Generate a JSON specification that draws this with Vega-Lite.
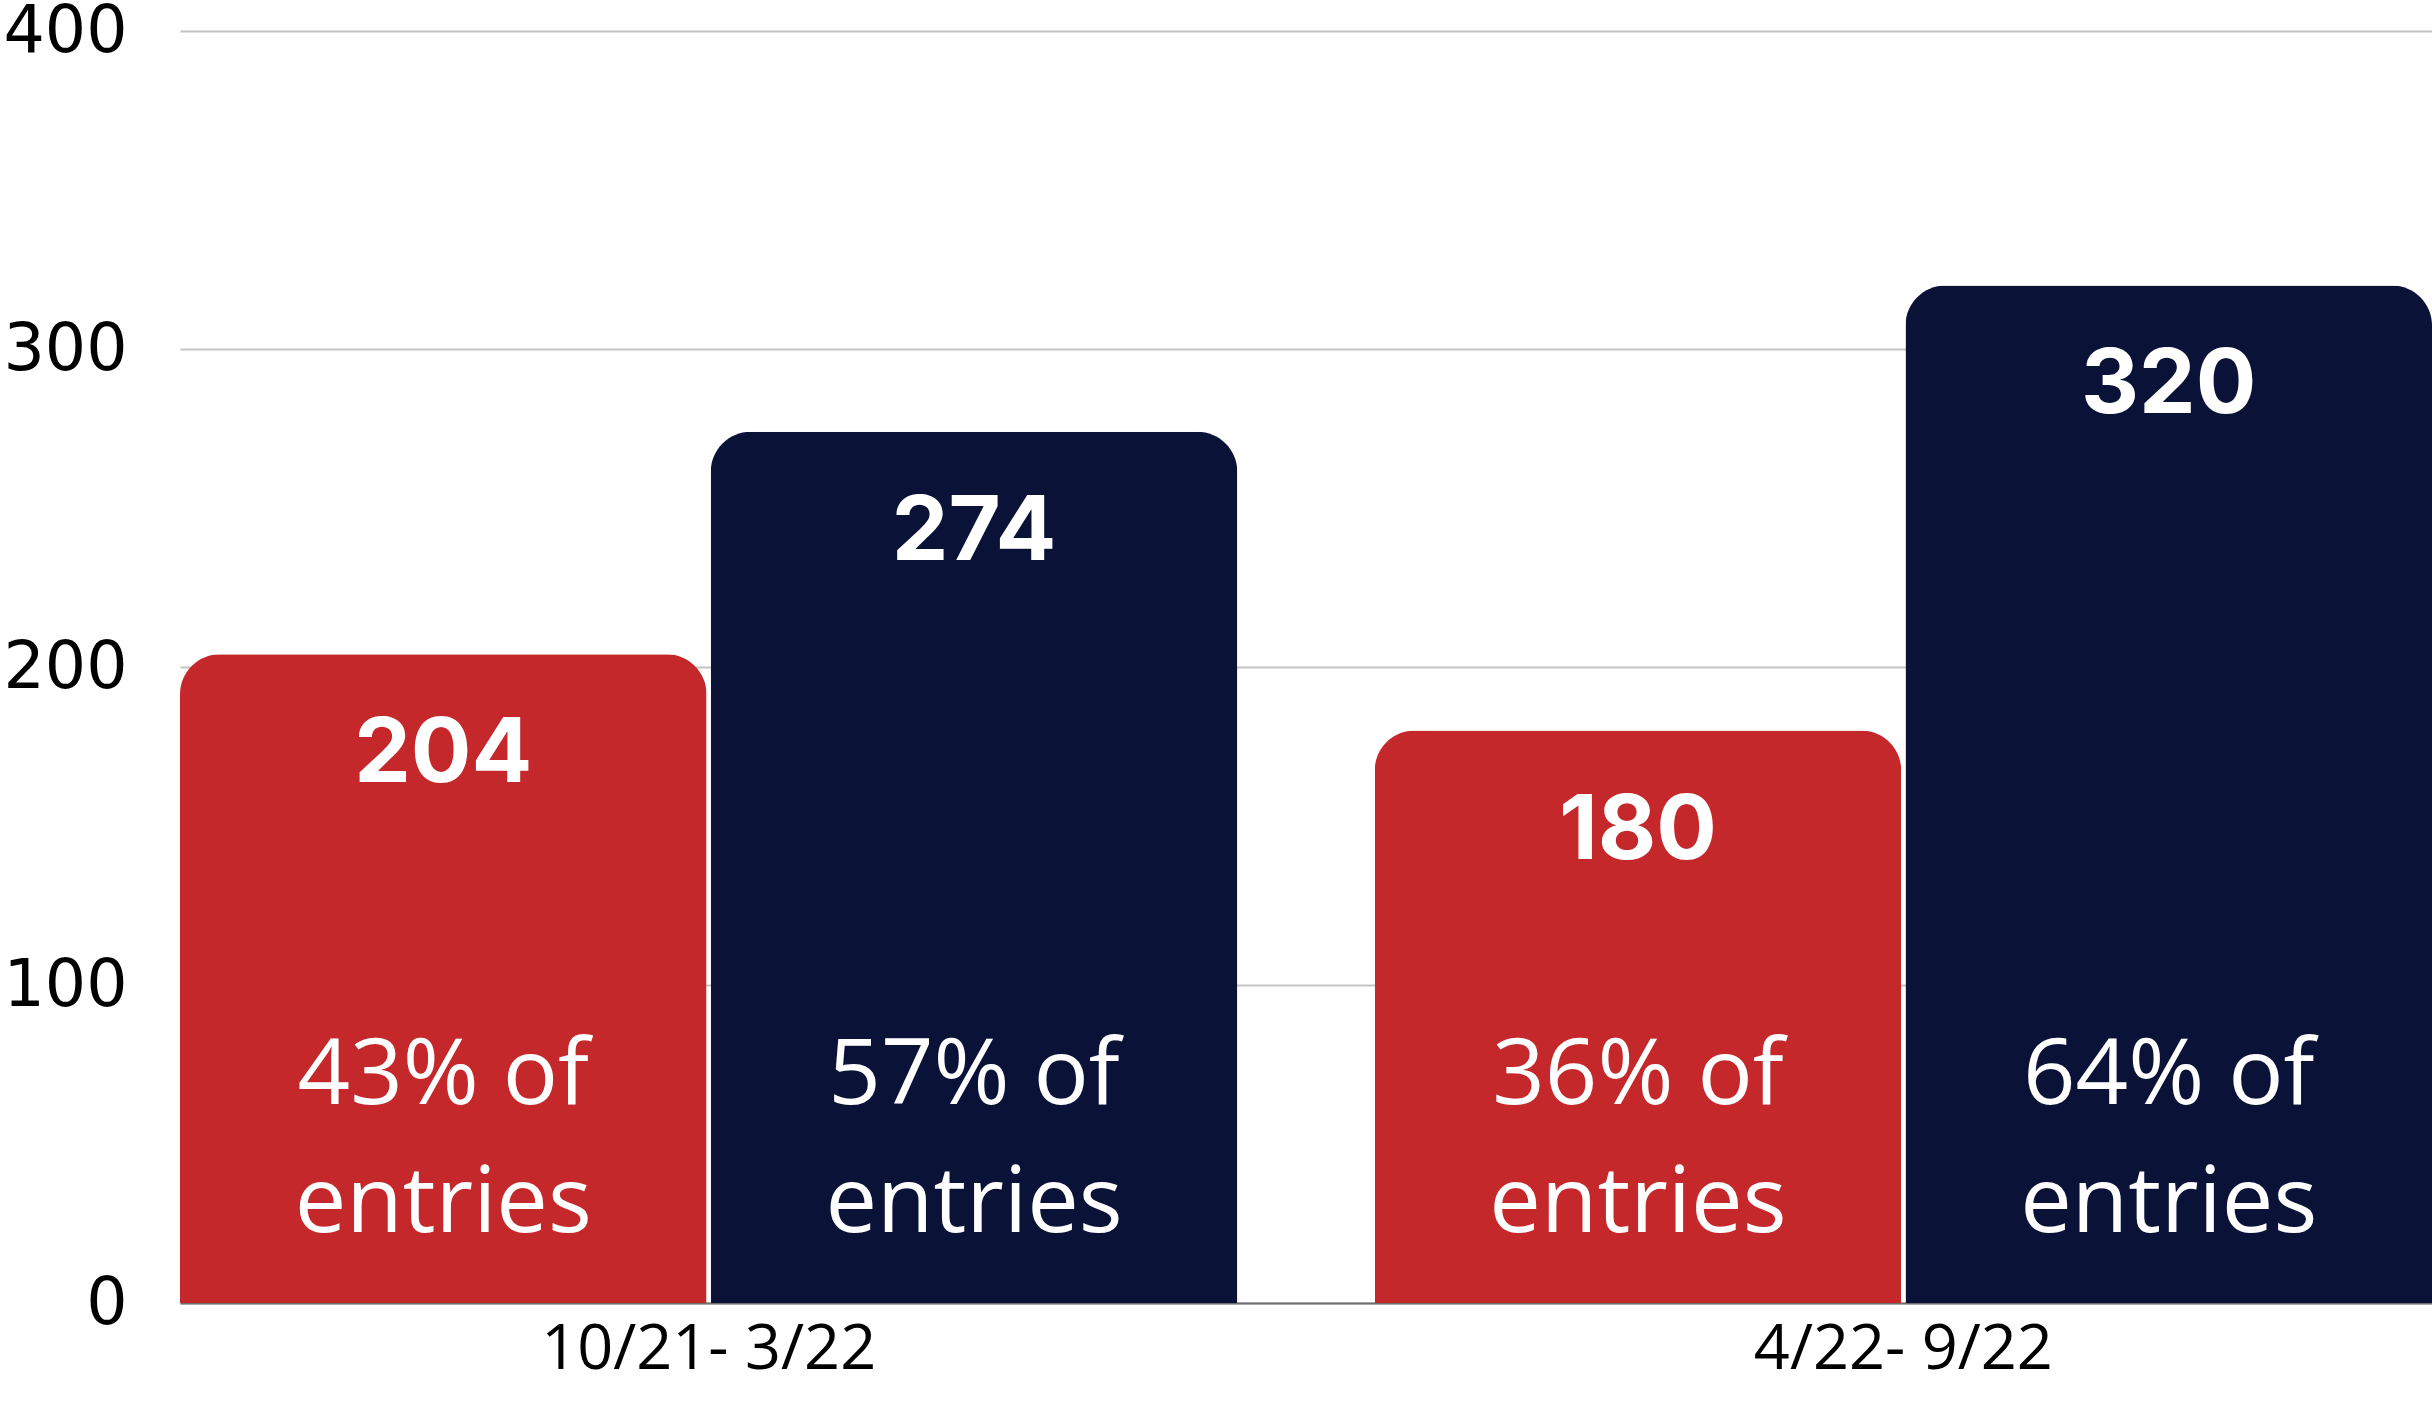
{
  "$schema": "https://vega.github.io/schema/vega-lite/v6.json",
  "autosize": "none",
  "width": 2252,
  "height": 1272,
  "padding": {"left": 180, "top": 31, "right": 0, "bottom": 101},
  "background": "white",
  "config": {"view": {"stroke": null}},
  "data": {
    "values": [
      {"period": "10/21- 3/22", "series": "Series 1", "value": 204, "share": "43% of\nentries"},
      {"period": "10/21- 3/22", "series": "Series 2", "value": 274, "share": "57% of\nentries"},
      {"period": "4/22- 9/22", "series": "Series 1", "value": 180, "share": "36% of\nentries"},
      {"period": "4/22- 9/22", "series": "Series 2", "value": 320, "share": "64% of\nentries"}
    ]
  },
  "encoding": {
    "x": {
      "field": "period",
      "type": "nominal",
      "sort": null,
      "scale": {"paddingInner": 0.115, "paddingOuter": 0},
      "axis": {
        "title": null,
        "labelAngle": 0,
        "ticks": false,
        "labelLimit": 0,
        "labelFont": "Open Sans",
        "labelFontSize": 63,
        "labelColor": "#000000",
        "labelPadding": 15,
        "domainColor": "#6e6e6e",
        "domainWidth": 2
      }
    },
    "xOffset": {
      "field": "series",
      "type": "nominal",
      "sort": null,
      "scale": {"paddingInner": 0.008, "paddingOuter": 0}
    }
  },
  "layer": [
    {
      "mark": {"type": "bar", "cornerRadiusTopLeft": 40, "cornerRadiusTopRight": 40},
      "encoding": {
        "y": {
          "field": "value",
          "type": "quantitative",
          "scale": {"domain": [0, 400], "nice": false},
          "axis": {
            "title": null,
            "values": [0, 100, 200, 300, 400],
            "domain": false,
            "ticks": false,
            "labelFont": "DejaVu Sans",
            "labelFontSize": 65,
            "labelColor": "#000000",
            "labelPadding": 53,
            "gridColor": "#c4c4c4",
            "gridWidth": 2
          }
        },
        "color": {
          "field": "series",
          "type": "nominal",
          "scale": {"domain": ["Series 1", "Series 2"], "range": ["#c5282b", "#0a1238"]},
          "legend": null
        }
      }
    },
    {
      "mark": {"type": "text", "dy": 101, "baseline": "middle", "align": "center", "font": "Inter", "fontWeight": "bold", "fontSize": 90, "color": "#ffffff"},
      "encoding": {
        "y": {"field": "value", "type": "quantitative"},
        "text": {"field": "value", "type": "quantitative"}
      }
    },
    {
      "mark": {"type": "text", "baseline": "middle", "align": "center", "font": "Open Sans", "fontSize": 92, "lineHeight": 128, "lineBreak": "\n", "color": "#ffffff"},
      "encoding": {
        "y": {"datum": 71.5, "type": "quantitative"},
        "text": {"field": "share", "type": "nominal"}
      }
    }
  ]
}
